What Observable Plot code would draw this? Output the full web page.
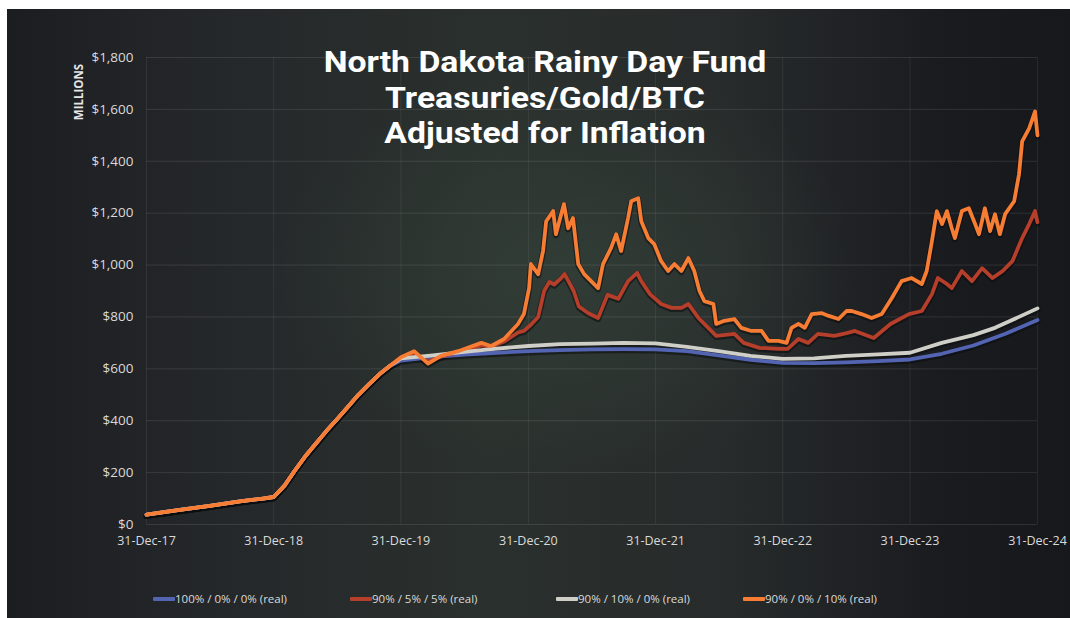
<!DOCTYPE html>
<html>
<head>
<meta charset="utf-8">
<script src="https://cdn.jsdelivr.net/npm/d3@7"></script>
<script src="https://cdn.jsdelivr.net/npm/@observablehq/plot@0.6"></script>
<style>
  html, body { margin: 0; padding: 0; background: #ffffff; width: 1070px; height: 618px; overflow: hidden; }
  #panel {
    position: absolute; left: 7px; top: 9px; width: 1063px; height: 609px;
    background:
      radial-gradient(ellipse 420px 300px at 560px 260px, rgba(60,78,66,0.45), rgba(0,0,0,0) 70%),
      linear-gradient(to right, #1c1d21 0%, #24272a 18%, #2a302d 45%, #272b2b 68%, #1a1b1f 88%, #17181b 100%);
  }
  #chart { position: absolute; left: 0; top: 0; }
  #title {
    position: absolute; left: 195px; width: 700px; top: 44px; text-align: center;
    font-family: Roboto, sans-serif; font-weight: 700; font-size: 30px; line-height: 35.5px;
    color: #ffffff;
  }
  #title div { height: 35.5px; transform: scaleX(1.125); transform-origin: 350px 50%; }
  #ylab {
    position: absolute; left: 78px; top: 92px; transform: translate(-50%, -50%) rotate(-90deg);
    font-family: "Open Sans", sans-serif; font-weight: 700; font-size: 11.5px; color: #e6e6e6; white-space: nowrap;
  }
  .leg { position: absolute; top: 591px; display: flex; align-items: center; font-family: "Open Sans", sans-serif; font-size: 11.5px; color: #dadada; white-space: nowrap; }
  .sw { width: 22px; height: 4px; margin-right: 0px; border-radius: 1px; }
</style>
</head>
<body>
<div id="panel"></div>
<div id="chart"></div>
<div id="title"><div>North Dakota Rainy Day Fund</div><div>Treasuries/Gold/BTC</div><div>Adjusted for Inflation</div></div>
<div id="ylab">MILLIONS</div>
<div id="legend"></div>
<script>
// ---------- DATA (values in $ millions) ----------
const xTickDates = ["2017-12-31","2018-12-31","2019-12-31","2020-12-31","2021-12-31","2022-12-31","2023-12-31","2024-12-31"];
const xTickLabels = ["31-Dec-17","31-Dec-18","31-Dec-19","31-Dec-20","31-Dec-21","31-Dec-22","31-Dec-23","31-Dec-24"];
const yTicks = [0, 200, 400, 600, 800, 1000, 1200, 1400, 1600, 1800];
const yTickLabels = ["$0","$200","$400","$600","$800","$1,000","$1,200","$1,400","$1,600","$1,800"];

const seriesNames = ["100% / 0% / 0% (real)", "90% / 5% / 5% (real)", "90% / 10% / 0% (real)", "90% / 0% / 10% (real)"];

// shared start (all four lines overlap)
const commonDates = ["2017-12-31","2018-03-31","2018-06-30","2018-09-30","2018-11-30","2018-12-31","2019-01-31","2019-02-28","2019-03-31","2019-04-30","2019-05-31","2019-06-30","2019-07-31","2019-08-31","2019-09-30","2019-10-31","2019-11-30"];
const commonValues = [38, 55, 72, 90, 100, 106, 150, 205, 262, 310, 360, 405, 452, 500, 540, 580, 612];

const blueDates = ["2019-12-31","2020-03-31","2020-06-30","2020-09-30","2020-12-31","2021-03-31","2021-06-30","2021-09-30","2021-12-31","2022-03-31","2022-06-30","2022-09-30","2022-12-31","2023-03-31","2023-06-30","2023-09-30","2023-12-31","2024-03-31","2024-06-30","2024-09-30","2024-12-31"];
const blueValues = [632, 645, 655, 662, 668, 672, 675, 676, 675, 668, 652, 635, 623, 622, 625, 630, 636, 658, 690, 735, 788];

const grayDates = ["2019-12-31","2020-03-31","2020-06-30","2020-09-30","2020-12-31","2021-03-31","2021-06-30","2021-09-30","2021-12-31","2022-03-31","2022-06-30","2022-09-30","2022-12-31","2023-03-31","2023-06-30","2023-09-30","2023-12-31","2024-03-31","2024-06-30","2024-08-31","2024-12-31"];
const grayValues = [640, 652, 665, 678, 688, 695, 697, 700, 698, 685, 668, 650, 638, 640, 650, 656, 662, 700, 730, 758, 833];

const redDates = ["2019-12-31","2020-02-07","2020-03-18","2020-04-24","2020-06-12","2020-08-18","2020-09-15","2020-10-22","2020-12-01","2020-12-18","2021-01-07","2021-01-28","2021-02-14","2021-03-01","2021-03-15","2021-04-04","2021-04-14","2021-04-28","2021-05-10","2021-05-25","2021-06-20","2021-07-19","2021-08-15","2021-09-15","2021-10-13","2021-11-08","2021-11-20","2021-12-15","2022-01-16","2022-02-15","2022-03-15","2022-04-04","2022-05-03","2022-05-20","2022-06-23","2022-08-14","2022-09-10","2022-10-25","2022-12-19","2023-01-14","2023-02-14","2023-03-14","2023-04-11","2023-05-28","2023-07-02","2023-07-26","2023-09-18","2023-11-05","2023-12-28","2024-02-03","2024-03-03","2024-03-20","2024-04-15","2024-04-29","2024-05-28","2024-06-26","2024-07-25","2024-08-24","2024-09-22","2024-10-20","2024-11-17","2024-12-07","2024-12-24","2024-12-31"];
const redValues = [640, 660, 628, 648, 663, 690, 685, 705, 740, 746, 770, 800, 900, 935, 925, 950, 965, 930, 900, 840, 815, 796, 885, 870, 938, 970, 938, 888, 850, 835, 835, 850, 796, 773, 727, 735, 700, 681, 677, 677, 715, 700, 735, 727, 738, 746, 719, 773, 811, 823, 888, 950, 927, 911, 977, 938, 988, 950, 977, 1015, 1104, 1158, 1208, 1165];

const orangeDates = ["2019-12-31","2020-02-07","2020-03-18","2020-04-24","2020-06-12","2020-08-18","2020-09-15","2020-10-22","2020-12-01","2020-12-18","2021-01-02","2021-01-07","2021-01-28","2021-02-11","2021-02-20","2021-03-12","2021-03-20","2021-04-04","2021-04-12","2021-04-24","2021-05-08","2021-05-23","2021-06-09","2021-06-29","2021-07-19","2021-08-02","2021-08-25","2021-09-09","2021-09-23","2021-10-13","2021-10-22","2021-11-11","2021-11-20","2021-12-10","2021-12-27","2022-01-16","2022-02-05","2022-02-23","2022-03-15","2022-04-04","2022-04-21","2022-05-06","2022-05-20","2022-06-15","2022-06-23","2022-07-16","2022-08-14","2022-09-03","2022-10-02","2022-10-31","2022-11-20","2022-12-19","2023-01-11","2023-01-25","2023-02-14","2023-03-04","2023-03-24","2023-04-21","2023-05-12","2023-06-09","2023-07-02","2023-07-17","2023-08-14","2023-09-12","2023-10-11","2023-11-09","2023-12-07","2024-01-05","2024-02-03","2024-02-17","2024-03-03","2024-03-17","2024-04-01","2024-04-15","2024-04-29","2024-05-08","2024-05-28","2024-06-17","2024-07-05","2024-07-16","2024-08-02","2024-08-17","2024-08-31","2024-09-14","2024-09-29","2024-10-25","2024-11-08","2024-11-17","2024-12-07","2024-12-24","2024-12-31"];
const orangeValues = [645, 668, 620, 650, 668, 700, 688, 715, 773, 811, 911, 1004, 965, 1054, 1169, 1208, 1119, 1196, 1235, 1142, 1181, 1004, 965, 938, 911, 1004, 1065, 1119, 1054, 1181, 1246, 1258, 1169, 1104, 1081, 1015, 977, 1004, 977, 1027, 977, 900, 861, 850, 773, 785, 792, 758, 746, 746, 708, 708, 700, 758, 773, 758, 811, 815, 804, 792, 823, 823, 811, 796, 811, 873, 938, 950, 927, 977, 1092, 1208, 1158, 1208, 1142, 1104, 1208, 1219, 1158, 1119, 1219, 1131, 1196, 1119, 1196, 1246, 1350, 1477, 1527, 1592, 1500];

// ---------- STYLE ----------
const seriesColors = ["#5365b2", "#b53f2a", "#cfcfc8", "#f67d33"];

// ---------- BUILD ----------
const parse = d3.utcParse("%Y-%m-%d");
const ownDates = [blueDates, redDates, grayDates, orangeDates];
const ownValues = [blueValues, redValues, grayValues, orangeValues];
const rows = [];
seriesNames.forEach((name, s) => {
  commonDates.forEach((d, i) => rows.push({series: name, date: parse(d), value: commonValues[i]}));
  ownDates[s].forEach((d, i) => rows.push({series: name, date: parse(d), value: ownValues[s][i]}));
});
const xTicks = xTickDates.map(parse);

const chart = Plot.plot({
  width: 1070,
  height: 562,
  marginLeft: 146,
  marginRight: 33,
  marginTop: 57,
  marginBottom: 38,
  style: {background: "transparent", color: "#d9d9d9", fontFamily: "Open Sans, sans-serif", fontSize: "12.5px", overflow: "visible"},
  x: {type: "utc", domain: [xTicks[0], xTicks[xTicks.length - 1]]},
  y: {domain: [0, 1800]},
  color: {domain: seriesNames, range: seriesColors},
  marks: [
    Plot.gridY(yTicks, {stroke: "#ffffff", strokeOpacity: 0.1}),
    Plot.gridX(xTicks, {stroke: "#ffffff", strokeOpacity: 0.07}),
    Plot.axisY(yTicks, {tickSize: 0, tickPadding: 13, tickFormat: d => yTickLabels[yTicks.indexOf(d)], label: null, fill: "#dadada", fontSize: 13.5}),
    Plot.axisX(xTicks, {tickSize: 0, tickPadding: 12, tickFormat: d => xTickLabels[xTicks.findIndex(t => +t === +d)], label: null, fill: "#dadada", fontSize: 12.5}),
    Plot.lineY(rows, {x: "date", y: "value", z: "series", stroke: "#0b0c0e", strokeWidth: 6, strokeOpacity: 0.55, dy: 1.2}),
    Plot.lineY(rows, {x: "date", y: "value", z: "series", stroke: "series", strokeWidth: 3.8, strokeLinejoin: "round"})
  ]
});
document.getElementById("chart").appendChild(chart);

// legend
const legendLeft = [153, 350, 556, 743];
const legend = document.getElementById("legend");
seriesNames.forEach((name, i) => {
  const item = document.createElement("div");
  item.className = "leg";
  item.style.left = legendLeft[i] + "px";
  const sw = document.createElement("div");
  sw.className = "sw";
  sw.style.background = seriesColors[i];
  const tx = document.createElement("span");
  tx.textContent = name;
  item.appendChild(sw);
  item.appendChild(tx);
  legend.appendChild(item);
});
</script>
</body>
</html>
